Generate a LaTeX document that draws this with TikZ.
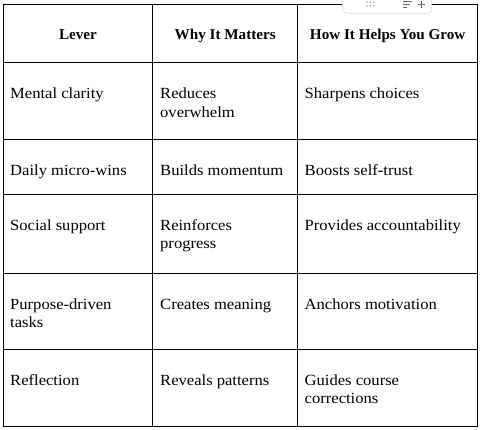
\documentclass[tikz,border=0pt]{standalone}
\usepackage{fontspec}
\setmainfont{Liberation Serif}[FakeStretch=1.07]
\newfontfamily\headfont{Liberation Serif}[FakeStretch=1.01]
\newcommand{\cellbox}[1]{\parbox[t]{170pt}{\raggedright\fontsize{15.5}{18.4}\selectfont #1}}
\begin{document}
\begin{tikzpicture}[x=1pt,y=-1pt,
  grid/.style={line width=1pt, black},
  headcell/.style={inner sep=0pt, anchor=base, font=\headfont\bfseries\fontsize{15}{17}\selectfont},
  bodycell/.style={inner sep=0pt, anchor=base west},
  toolbox/.style={draw=black!15, fill=white, line width=0.6pt, rounded corners=4pt},
  toolicon/.style={draw=black!60, line width=1pt},
  dot/.style={fill=black!35, draw=none}]
\useasboundingbox (0,0) rectangle (482,430);
% grid
\draw[grid] (3.5,4.7) rectangle (477.7,426);
\foreach \x in {152.7,297.7} \draw[grid] (\x,4.7) -- (\x,426);
\foreach \y in {62.7,139.3,194.3,273.3,349.3} \draw[grid] (3.5,\y) -- (477.7,\y);
% header
\node[headcell] (h1) at (78,39.3) {Lever};
\node[headcell] (h2) at (225.2,39.3) {Why It Matters};
\node[headcell] (h3) at (387.7,39.3) {How It Helps You Grow};
% rows
\node[bodycell] (a1) at (10,99) {\cellbox{Mental clarity}};
\node[bodycell] (b1) at (160,99) {\cellbox{Reduces\\overwhelm}};
\node[bodycell] (c1) at (304.5,99) {\cellbox{Sharpens choices}};
\node[bodycell] (a2) at (10,175.3) {\cellbox{Daily micro-wins}};
\node[bodycell] (b2) at (160,175.3) {\cellbox{Builds momentum}};
\node[bodycell] (c2) at (304.5,175.3) {\cellbox{Boosts self-trust}};
\node[bodycell] (a3) at (10,230.3) {\cellbox{Social support}};
\node[bodycell] (b3) at (160,230.3) {\cellbox{Reinforces\\progress}};
\node[bodycell] (c3) at (304.5,230.3) {\cellbox{Provides accountability}};
\node[bodycell] (a4) at (10,309.3) {\cellbox{Purpose-driven\\tasks}};
\node[bodycell] (b4) at (160,309.3) {\cellbox{Creates meaning}};
\node[bodycell] (c4) at (304.5,309.3) {\cellbox{Anchors motivation}};
\node[bodycell] (a5) at (10,385) {\cellbox{Reflection}};
\node[bodycell] (b5) at (160,385) {\cellbox{Reveals patterns}};
\node[bodycell] (c5) at (304.5,385) {\cellbox{Guides course\\corrections}};
% toolbar
\draw[toolbox] (342.7,-6) rectangle (431.7,13.3);
\foreach \x in {367,370.5,374} \foreach \y in {2.3,5.8} \fill[dot] (\x,\y) circle (0.9pt);
\draw[toolicon] (403,2) -- (412,2) (403,5) -- (409.5,5) (403,8) -- (407,8);
\draw[toolicon] (417.5,5) -- (424.5,5) (421,1.5) -- (421,8.5);
\end{tikzpicture}
\end{document}
